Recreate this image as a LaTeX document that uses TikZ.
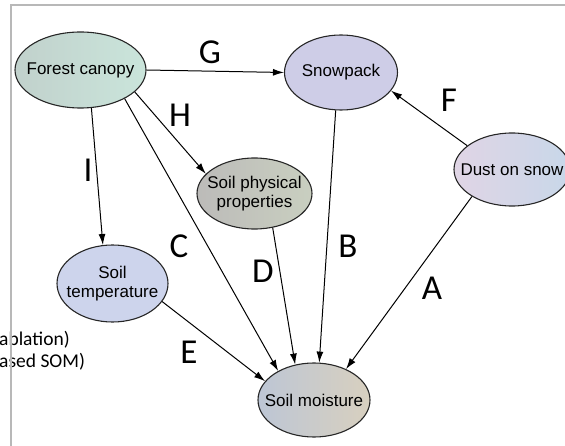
\documentclass[tikz,border=0pt]{standalone}
\usepackage{fontspec}
\setmainfont{Liberation Sans}
\newfontfamily\lblfont{Carlito}
\usetikzlibrary{shapes.geometric,arrows.meta}

\definecolor{canopyL}{RGB}{193,209,204}
\definecolor{canopyR}{RGB}{202,229,219}
\definecolor{snowC}{RGB}{206,205,231}
\definecolor{dustL}{RGB}{224,213,229}
\definecolor{dustR}{RGB}{200,215,233}
\definecolor{physL}{RGB}{188,187,185}
\definecolor{physM}{RGB}{207,192,176}
\definecolor{physR}{RGB}{201,207,192}
\definecolor{tempC}{RGB}{205,212,236}
\definecolor{moistL}{RGB}{189,198,213}
\definecolor{moistR}{RGB}{216,208,191}

\tikzset{
  factor/.style={ellipse,draw=black!85,line width=1.1pt,inner sep=-12pt,align=center,
    font=\fontsize{17}{19.5}\selectfont},
  link/.style={-{Latex[length=11pt,width=7pt]},line width=1pt},
  tag/.style={font=\lblfont\fontsize{35}{35}\selectfont,inner sep=0pt},
  cut/.style={anchor=base west,inner sep=0pt,font=\lblfont\fontsize{19.5}{20}\selectfont},
  frame/.style={draw=black!28,line width=1.2pt}
}

\begin{document}
\begin{tikzpicture}[x=1pt,y=-1pt]
\useasboundingbox (0,0) rectangle (565,446);
\node[cut] (abl) at (-1,345) {ablation)};
\node[cut] (som) at (-1,367) {ased SOM)};
\draw[frame] (565,5) -- (11,5) -- (11,446);

\node[factor,minimum width=131pt,minimum height=76pt,left color=canopyL,right color=canopyR] (fc) at (80.5,70) {Forest canopy};
\node[factor,minimum width=113pt,minimum height=75pt,fill=snowC] (sp) at (341,72.5) {Snowpack};
\node[factor,minimum width=116pt,minimum height=73pt,left color=dustL,right color=dustR] (dos) at (512,169.5) {Dust on snow};
\node[factor,minimum width=115pt,minimum height=71pt,left color=physL,middle color=physM,right color=physR] (spp) at (254.5,193.5) {Soil physical\\properties};
\node[factor,minimum width=111pt,minimum height=77pt,fill=tempC] (st) at (112.5,283.5) {Soil\\temperature};
\node[factor,minimum width=112pt,minimum height=74pt,left color=moistL,right color=moistR] (sm) at (314,400) {Soil moisture};

\draw[link] (fc.east) -- (sp.west);
\draw[link] (fc.-74) -- (st.104);
\draw[link] (fc.-22) -- (spp.158);
\draw[link] (fc.-33) -- (sm.141);
\draw[link] (spp.-62) -- (sm.118);
\draw[link] (sp.-98) -- (sm.82);
\draw[link] (dos.152) -- (sp.-20);
\draw[link] (dos.214) -- (sm.44);
\draw[link] (st.-20) -- (sm.159);

\node[tag] (tagG) at (210,52) {G};
\node[tag] (tagH) at (180,115) {H};
\node[tag] (tagI) at (88,170) {I};
\node[tag] (tagC) at (179,246) {C};
\node[tag] (tagD) at (263,271) {D};
\node[tag] (tagB) at (348,246) {B};
\node[tag] (tagF) at (449,100) {F};
\node[tag] (tagA) at (432,288) {A};
\node[tag] (tagE) at (189,352) {E};
\end{tikzpicture}
\end{document}
